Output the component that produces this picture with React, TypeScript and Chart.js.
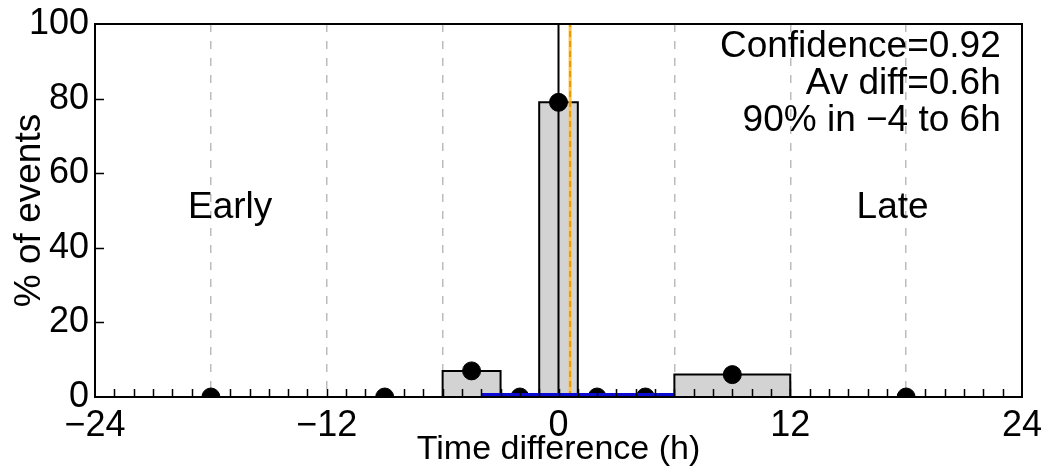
import React, { useEffect, useRef } from 'react';
import { Chart, registerables } from 'chart.js';

Chart.register(...registerables);

// ---- data ----
const binEdges = [-24, -12, -6, -3, -1, 1, 3, 6, 12, 24];
const binPercents = [0, 0, 7, 0, 79, 0, 0, 6, 0];
const xLabelValues = [-24, -12, 0, 12, 24];
const xGridValues = [-18, -12, -6, 6, 12, 18];
const yTickValues = [0, 20, 40, 60, 80, 100];
const zeroLineX = 0;
const avDiffX = 0.6;
const range90 = [-4, 6];
const statLines = ['Confidence=0.92', 'Av diff=0.6h', '90% in \u22124 to 6h'];
const sideLabels = ['Early', 'Late'];

const fmt = (v: number) => (v < 0 ? '\u2212' + Math.abs(v) : String(v));

const outline: { x: number; y: number }[] = [];
for (let i = 0; i < binPercents.length; i++) {
  const l = binEdges[i];
  const r = binEdges[i + 1];
  const h = binPercents[i];
  outline.push({ x: l, y: 0 }, { x: l, y: h }, { x: r, y: h }, { x: r, y: 0 });
}
const centers = binPercents.map((h, i) => ({ x: (binEdges[i] + binEdges[i + 1]) / 2, y: h }));

const FONT = "'Liberation Sans', Arial, Helvetica, sans-serif";

const decorPlugin = {
  id: 'decor',
  afterDatasetsDraw(chart: any) {
    const { ctx, chartArea: a, scales } = chart;
    const x = scales.x;
    const y = scales.y;
    ctx.save();
    ctx.strokeStyle = '#000';
    ctx.lineWidth = 1.5;
    ctx.beginPath();
    for (let v = -23; v <= 23; v++) {
      const px = Math.round(x.getPixelForValue(v)) + 0.5;
      ctx.moveTo(px, a.bottom);
      ctx.lineTo(px, a.bottom - 8);
    }
    for (const v of yTickValues) {
      if (v === 0 || v === 100) continue;
      const py = Math.round(y.getPixelForValue(v)) + 0.5;
      ctx.moveTo(a.left, py);
      ctx.lineTo(a.left + 9, py);
    }
    ctx.stroke();
    ctx.lineWidth = 2;
    ctx.strokeRect(a.left, a.top, a.right - a.left, a.bottom - a.top);

    ctx.fillStyle = '#000';
    ctx.font = `37px ${FONT}`;
    ctx.textBaseline = 'alphabetic';
    ctx.textAlign = 'center';
    ctx.fillText(sideLabels[0], x.getPixelForValue(-17), y.getPixelForValue(48));
    ctx.fillText(sideLabels[1], x.getPixelForValue(17.3), y.getPixelForValue(48));
    ctx.textAlign = 'right';
    const rx = x.getPixelForValue(22.9);
    const ys = [91.2, 81.2, 71.3];
    statLines.forEach((t, i) => ctx.fillText(t, rx, y.getPixelForValue(ys[i])));
    ctx.restore();
  },
};

export default function App() {
  const ref = useRef<HTMLCanvasElement | null>(null);
  useEffect(() => {
    document.body.style.margin = '0';
    Chart.defaults.font.family = FONT;
    Chart.defaults.color = '#000';
    const chart = new Chart(ref.current as HTMLCanvasElement, {
      type: 'scatter',
      data: {
        datasets: [
          {
            type: 'line',
            data: [{ x: range90[0], y: 0 }, { x: range90[1], y: 0 }],
            borderColor: '#0a0ad2',
            borderWidth: 8,
            pointRadius: 0,
            clip: 0,
            order: 1,
          } as any,
          {
            type: 'scatter',
            data: centers,
            backgroundColor: '#000',
            borderColor: '#000',
            pointRadius: 9,
            pointHoverRadius: 9,
            clip: 0,
            order: 2,
          } as any,
          {
            type: 'line',
            data: [{ x: avDiffX, y: 0 }, { x: avDiffX, y: 100 }],
            borderColor: '#e89a00',
            borderWidth: 2,
            borderDash: [6, 4],
            pointRadius: 0,
            clip: 0,
            order: 3,
          } as any,
          {
            type: 'line',
            data: [{ x: avDiffX, y: 0 }, { x: avDiffX, y: 100 }],
            borderColor: '#ffc24a',
            borderWidth: 3,
            pointRadius: 0,
            clip: 0,
            order: 4,
          } as any,
          {
            type: 'line',
            data: [{ x: zeroLineX, y: 0 }, { x: zeroLineX, y: 100 }],
            borderColor: '#000',
            borderWidth: 2,
            pointRadius: 0,
            clip: 0,
            order: 5,
          } as any,
          {
            type: 'line',
            data: outline,
            borderColor: '#000',
            borderWidth: 2,
            backgroundColor: '#d3d3d3',
            fill: 'origin',
            pointRadius: 0,
            tension: 0,
            clip: 0,
            order: 6,
          } as any,
        ],
      },
      options: {
        animation: false,
        responsive: false,
        events: [],
        layout: { padding: { top: 24, right: 22, left: 0, bottom: 0 } },
        plugins: { legend: { display: false }, tooltip: { enabled: false } },
        scales: {
          x: {
            type: 'linear',
            min: -24,
            max: 24,
            ticks: {
              stepSize: 6,
              padding: 7,
              maxRotation: 0,
              autoSkip: false,
              font: { size: 36 },
              callback: (v: any) => (xLabelValues.includes(Number(v)) ? fmt(Number(v)) : ''),
            },
            grid: {
              drawTicks: false,
              lineWidth: 1.5,
              color: (c: any) => (c.tick && xGridValues.includes(c.tick.value) ? '#bcbcbc' : 'transparent'),
            },
            border: { display: false, dash: [8, 9] },
            title: { display: true, text: 'Time difference (h)', font: { size: 34 }, padding: { top: 0, bottom: 3.5 } },
            afterFit: (s: any) => {
              s.height = 77;
              s.paddingLeft = 0;
              s.paddingRight = 0;
            },
          },
          y: {
            type: 'linear',
            min: 0,
            max: 100,
            ticks: { stepSize: 20, padding: 6, font: { size: 36 }, callback: (v: any) => fmt(Number(v)) },
            grid: { display: false, drawTicks: false },
            border: { display: false },
            title: { display: true, text: '% of events', font: { size: 37 }, padding: { top: 8, bottom: 0 } },
            afterFit: (s: any) => {
              s.width = 95;
              s.paddingTop = 0;
              s.paddingBottom = 0;
            },
          },
        },
      } as any,
      plugins: [decorPlugin],
    });
    return () => chart.destroy();
  }, []);
  return (
    <div style={{ width: 1044, height: 474 }}>
      <canvas ref={ref} width={1044} height={474} style={{ display: 'block' }} />
    </div>
  );
}
